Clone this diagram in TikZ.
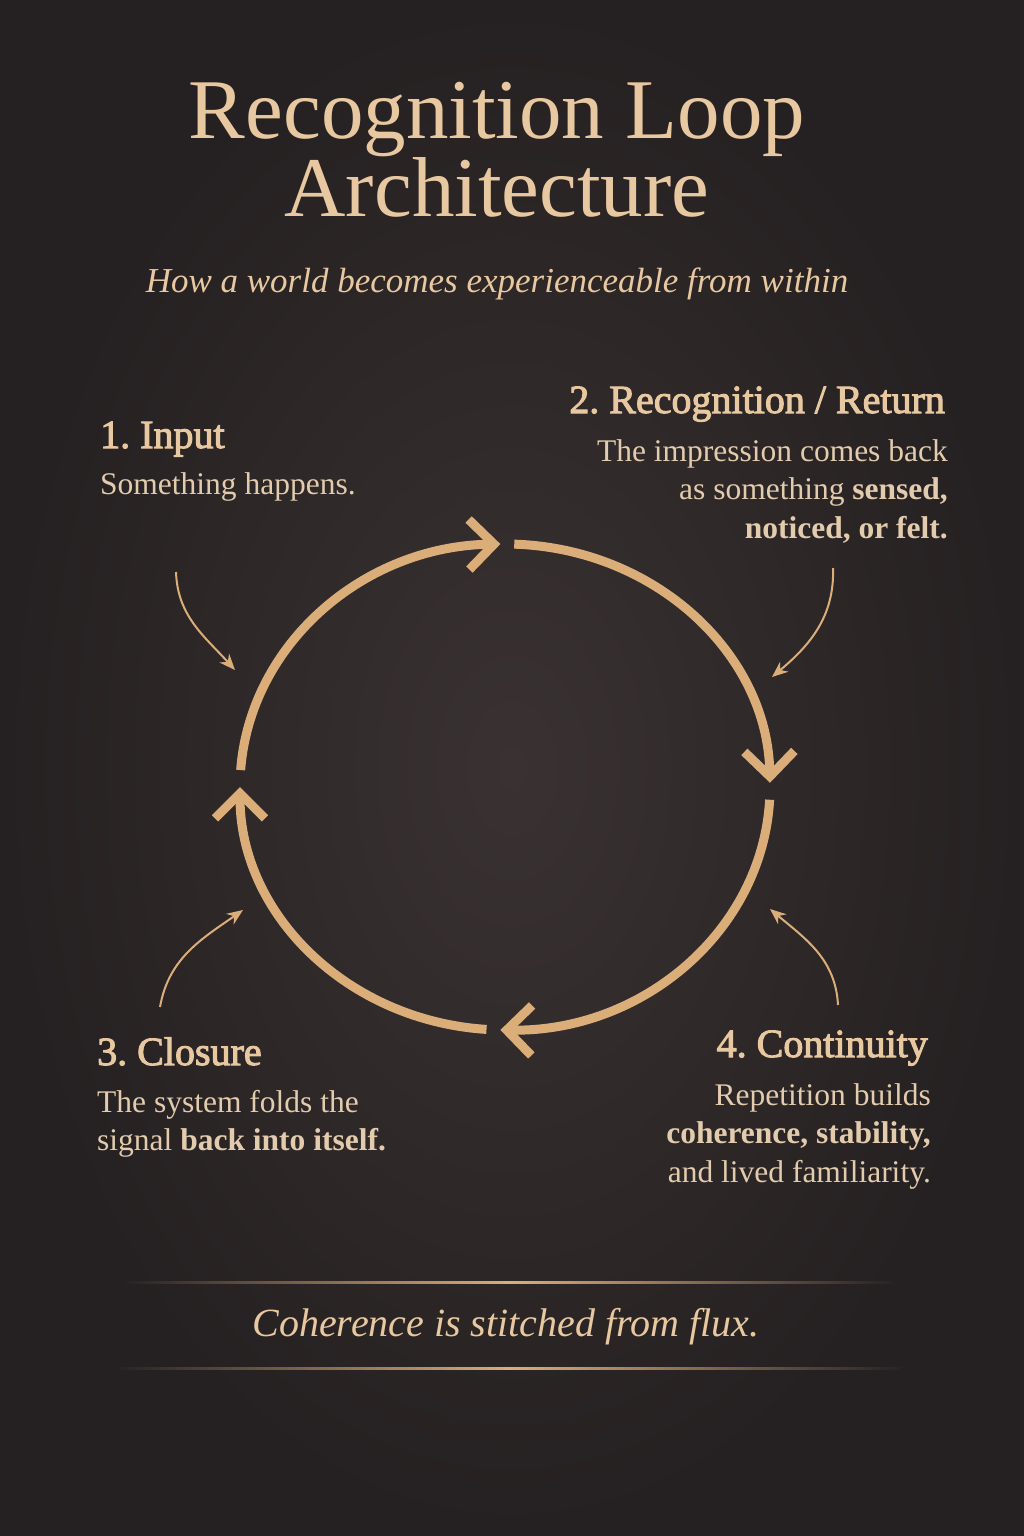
\documentclass[tikz,border=0pt]{standalone}
\usepackage{fontspec}
\setmainfont{Liberation Serif}
\newfontfamily\headfont[FakeBold=2.5]{Liberation Serif}
\frenchspacing
\usetikzlibrary{positioning, arrows.meta}
\definecolor{bgin}{HTML}{3A3232}
\definecolor{bgout}{HTML}{252021}
\definecolor{bgrule}{HTML}{282223}
\definecolor{sand}{HTML}{E8C8A0}
\definecolor{paper}{HTML}{E3CCAE}
\definecolor{amber}{HTML}{DBAE79}
\tikzset{x=1pt, y=1pt, every node/.style={inner sep=0pt, text=paper},
	title/.style={text=sand, align=center, font=\fontsize{85}{70}\selectfont},
	subtitle/.style={text=sand, font=\itshape\fontsize{35}{40}\selectfont},
	tagline/.style={text=sand, font=\itshape\fontsize{40}{44}\selectfont},
	head/.style={text=sand, font=\headfont\fontsize{40}{44}\selectfont},
	body/.style={font=\fontsize{31.5}{38.5}\selectfont, execute at begin node=\strut},
	ring/.style={draw=amber, line width=9pt, -{Straight Barb[length=25pt, width=50pt]}},
	pointer/.style={draw=amber, line width=2pt, -{Stealth[length=16pt, width=13pt]}}}

\begin{document}
\begin{tikzpicture}
	\shade[inner color=bgin, outer color=bgout] (0,0) rectangle (1024,-1536);
	\useasboundingbox (0,0) rectangle (1024,-1536);

	\node[title, anchor=north] (Title) at (497,-82) {Recognition Loop\\Architecture};
	\node[subtitle, below=50pt of Title] (Subtitle) {How a world becomes experienceable from within};

	\node[head, anchor=base west] (Input) at (100,-448) {1. Input};
	\node[body, below=19pt of Input.base west, anchor=north west, align=left] (Input body) {Something happens.};
	\node[head, anchor=base east] (Return) at (945,-413) {2. Recognition / Return};
	\node[body, below=26pt of Return.base east, anchor=north east, align=right, xshift=3pt] (Return body) {The impression comes back\\as something \textbf{sensed,}\\\textbf{noticed, or felt.}};
	\node[head, anchor=base west] (Closure) at (97,-1065) {3. Closure};
	\node[body, below=25pt of Closure.base west, anchor=north west, align=left] (Closure body) {The system folds the\\signal \textbf{back into itself.}};
	\node[head, anchor=base east] (Continuity) at (928,-1057) {4. Continuity};
	\node[body, below=26pt of Continuity.base east, anchor=north east, align=right, xshift=3pt] (Continuity body) {Repetition builds\\\textbf{coherence, stability,}\\and lived familiarity.};

	\coordinate (Center) at (505,-787);
	\draw[ring] (Center) ++(176:265 and 243) arc[start angle=176, end angle=91, x radius=265, y radius=243];
	\draw[ring] (Center) ++(88:265 and 243) arc[start angle=88, end angle=1, x radius=265, y radius=243];
	\draw[ring] (Center) ++(-3:265 and 243) arc[start angle=-3, end angle=-91, x radius=265, y radius=243];
	\draw[ring] (Center) ++(-94:265 and 243) arc[start angle=-94, end angle=-180, x radius=265, y radius=243];

	\coordinate (Input from) at (176,-572);
	\coordinate (Input to) at (235,-670);
	\coordinate (Return from) at (833,-568);
	\coordinate (Return to) at (772,-677);
	\coordinate (Closure from) at (160,-1007);
	\coordinate (Closure to) at (243,-910);
	\coordinate (Continuity from) at (838,-1005);
	\coordinate (Continuity to) at (770,-909);
	\path	(Input from) edge[pointer, out=-88, in=132] (Input to)
			(Return from) edge[pointer, out=-88, in=40] (Return to)
			(Closure from) edge[pointer, out=80, in=-145] (Closure to)
			(Continuity from) edge[pointer, out=93, in=-40] (Continuity to);

	\shade[left color=bgrule, right color=bgrule, middle color=amber] (125,-1281) rectangle (895,-1283.5);
	\node[tagline, anchor=base] (Motto) at (506,-1336) {Coherence is stitched from flux.};
	\shade[left color=bgrule, right color=bgrule, middle color=amber] (118,-1367) rectangle (902,-1369.5);
\end{tikzpicture}
\end{document}
